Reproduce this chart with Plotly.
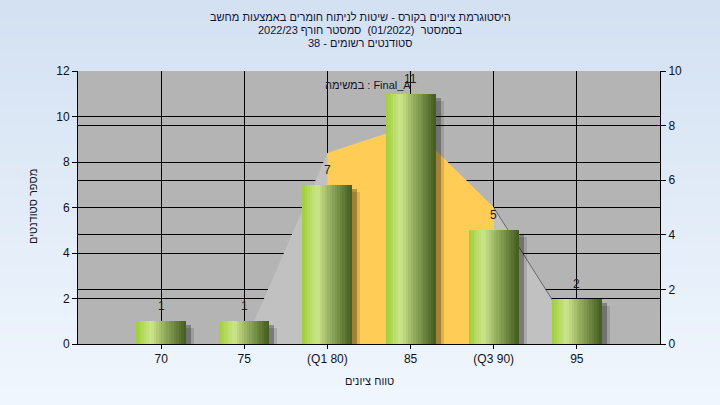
import plotly.graph_objects as go

# ---------------- data ----------------
CATEGORIES = ["70", "75", "(Q1 80)", "85", "(Q3 90)", "95"]
STUDENT_COUNTS = [1, 1, 7, 11, 5, 2]
CURVE_VALUES = [0, 0, 7, 8, 5, 0.2]
Q1_INDEX = 2
Q3_INDEX = 4
LEFT_TICKS = [0, 2, 4, 6, 8, 10, 12]
RIGHT_TICKS = [0, 2, 4, 6, 8, 10]
TITLE_LINES = [
    "היסטוגרמת ציונים בקורס - שיטות לניתוח חומרים באמצעות מחשב",
    "בסמסטר  (01/2022)  סמסטר חורף 2022/23",
    "סטודנטים רשומים - 38",
]
TASK_LABEL = "במשימה : Final_A"
Y_TITLE = "מספר סטודנטים"
X_TITLE = "טווח ציונים"

RLE, PDF = "\u202b", "\u202c"

W, H = 720, 405
ML, MR, MT, MB = 78, 60, 71, 61
PW, PH = W - ML - MR, H - MT - MB

xs = list(range(len(CATEGORIES)))
FONT = "Liberation Sans, Arial, sans-serif"

fig = go.Figure()

# background curve (right axis -> primary y placed on the right)
fig.add_trace(go.Scatter(x=xs, y=CURVE_VALUES, mode="lines", fill="tozeroy",
                         fillcolor="#c1c1c1", line=dict(width=0, color="#c1c1c1"),
                         yaxis="y", hoverinfo="skip", showlegend=False))
fig.add_trace(go.Scatter(x=xs[Q1_INDEX:Q3_INDEX + 1], y=CURVE_VALUES[Q1_INDEX:Q3_INDEX + 1],
                         mode="lines", fill="tozeroy", fillcolor="#ffcc55",
                         line=dict(width=0, color="#ffcc55"),
                         yaxis="y", hoverinfo="skip", showlegend=False))
fig.add_trace(go.Scatter(x=xs[Q3_INDEX:], y=CURVE_VALUES[Q3_INDEX:], mode="lines",
                         line=dict(width=1, color="rgba(70,70,70,0.7)"),
                         yaxis="y", hoverinfo="skip", showlegend=False))

# bars with gradient (overlay axis on the left)
BW = 0.6
px_x = PW / 7.0
px_y = PH / 12.0
for dx_px, dy_px, alpha in [(8, 7, 0.12), (5, 4, 0.28)]:
    fig.add_trace(go.Bar(x=xs, y=[max(v - dy_px / px_y, 0) for v in STUDENT_COUNTS],
                         width=BW, offset=-BW / 2 + dx_px / px_x,
                         marker=dict(color=f"rgba(0,0,0,{alpha})", line=dict(width=0)),
                         yaxis="y2", hoverinfo="skip", showlegend=False))

stops = [(0.0, (160, 206, 56)), (0.3, (204, 230, 142)), (0.55, (150, 176, 96)), (1.0, (66, 90, 28))]


def grad(t):
    for (t0, c0), (t1, c1) in zip(stops[:-1], stops[1:]):
        if t <= t1:
            f = (t - t0) / (t1 - t0)
            return "rgb(%d,%d,%d)" % tuple(round(a + (b - a) * f) for a, b in zip(c0, c1))
    return "rgb(%d,%d,%d)" % stops[-1][1]


N = 20
s = BW / N
for i in range(N):
    off = -BW / 2 + i * s
    wd = min(s * 1.6, BW / 2 - off)
    fig.add_trace(go.Bar(x=xs, y=STUDENT_COUNTS, width=wd, offset=off,
                         marker=dict(color=grad((i + 0.5) / N), line=dict(width=0)),
                         yaxis="y2", hoverinfo="skip", showlegend=False))

annotations = []
for x, v in zip(xs, STUDENT_COUNTS):
    annotations.append(dict(x=x, y=v, xref="x", yref="y2", text=str(v), showarrow=False,
                            yanchor="bottom", yshift=6, font=dict(size=12, color="#2a1a1a", family=FONT)))


def px2paper_x(p):
    return (p - ML) / PW


def px2paper_y(p):
    return (H - MB - p) / PH


for line, ypx in zip(TITLE_LINES, [17, 30, 43]):
    annotations.append(dict(x=px2paper_x(360), y=px2paper_y(ypx), xref="paper", yref="paper",
                            text=RLE + line + PDF, showarrow=False, xanchor="center", yanchor="middle",
                            font=dict(size=11, color="#141432", family=FONT)))
annotations.append(dict(x=px2paper_x(368), y=px2paper_y(85), xref="paper", yref="paper",
                        text=TASK_LABEL, showarrow=False, xanchor="center", yanchor="middle",
                        font=dict(size=11, color="#141428", family=FONT)))
annotations.append(dict(x=px2paper_x(33), y=px2paper_y(207), xref="paper", yref="paper",
                        text=Y_TITLE, showarrow=False, textangle=-90, xanchor="center", yanchor="middle",
                        font=dict(size=11, color="#141428", family=FONT)))
annotations.append(dict(x=px2paper_x(369), y=px2paper_y(381), xref="paper", yref="paper",
                        text=X_TITLE, showarrow=False, xanchor="center", yanchor="middle",
                        font=dict(size=11, color="#141428", family=FONT)))

# background gradient bands and plot area
shapes = []
NB = 45
top, bot = (211, 225, 242), (240, 246, 253)
for i in range(NB):
    f = i / (NB - 1)
    c = tuple(round(a + (b - a) * f) for a, b in zip(top, bot))
    y0 = i * H / NB
    y1 = (i + 1) * H / NB + 1
    shapes.append(dict(type="rect", xref="paper", yref="paper", layer="below",
                       x0=px2paper_x(-2), x1=px2paper_x(W + 2),
                       y0=px2paper_y(y1), y1=px2paper_y(y0),
                       fillcolor="rgb(%d,%d,%d)" % c, line=dict(width=0)))
shapes.append(dict(type="rect", xref="paper", yref="paper", layer="below",
                   x0=0, x1=1, y0=0, y1=1, fillcolor="#b4b4b4", line=dict(width=0)))

axis_common = dict(showline=True, linecolor="black", linewidth=1, ticks="outside",
                   ticklen=5, tickcolor="black", showgrid=True, gridcolor="black",
                   gridwidth=1, zeroline=False,
                   tickfont=dict(size=12, color="#101020", family=FONT))

fig.update_layout(
    width=W, height=H,
    margin=dict(l=ML, r=MR, t=MT, b=MB, pad=0),
    paper_bgcolor="rgba(0,0,0,0)",
    plot_bgcolor="rgba(0,0,0,0)",
    barmode="overlay",
    bargap=0,
    showlegend=False,
    xaxis=dict(range=[-1, 6], tickvals=xs, ticktext=CATEGORIES, ticklen=4, **{k: v for k, v in axis_common.items() if k != "ticklen"}),
    yaxis=dict(range=[0, 10], tickvals=RIGHT_TICKS, side="right", **axis_common),
    yaxis2=dict(range=[0, 12], tickvals=LEFT_TICKS, side="left", overlaying="y", **axis_common),
    annotations=annotations,
    shapes=shapes,
)

fig.write_html("out.html", config={"displayModeBar": False},
               post_script="document.body.style.margin='0';document.body.style.overflow='hidden';")
